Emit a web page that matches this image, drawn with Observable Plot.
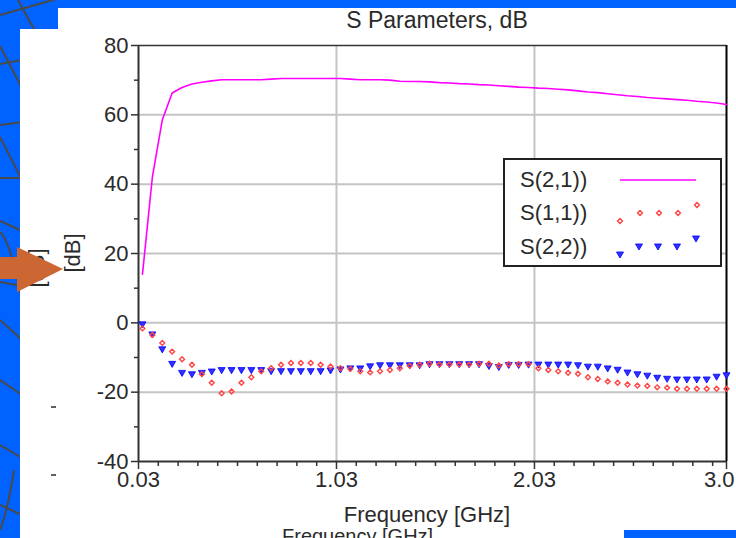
<!DOCTYPE html>
<html><head><meta charset="utf-8">
<script src="https://cdn.jsdelivr.net/npm/d3@7"></script>
<script src="https://cdn.jsdelivr.net/npm/@observablehq/plot@0.6"></script>
<style>
html,body{margin:0;padding:0;width:736px;height:538px;overflow:hidden;background:#0062ff;}
.layer{position:absolute;left:0;top:0;}
.panel{position:absolute;background:#fff;}
</style></head><body>
<svg class="layer" width="736" height="538" stroke="#4a4a4a" stroke-width="2" fill="none">
  <path d="M0,15 L60,-2"/>
  <path d="M18,0 L40,40"/>
  <path d="M0,64 L22,60"/>
  <path d="M0,46 L22,88"/>
  <path d="M0,125 L22,122"/>
  <path d="M0,137 L22,180"/>
  <path d="M0,178 L22,178"/>
  <path d="M0,221 L22,231"/>
  <path d="M0,232 Q10,240 22,300"/>
  <path d="M0,282 L22,286"/>
  <path d="M0,320 L22,340"/>
  <path d="M0,380 L22,395"/>
  <path d="M0,445 L22,458"/>
  <path d="M14,470 Q8,510 0,530"/>
  <path d="M0,505 L22,515"/>
</svg>
<div class="panel" style="left:58px;top:8px;width:678px;height:522px"></div>
<div class="panel" style="left:20px;top:29px;width:604px;height:509px"></div>
<div id="chart" class="layer"></div>
<svg id="over" class="layer" width="736" height="538" style="pointer-events:none"></svg>
<script>
const freq = [0.05,0.10,0.15,0.20,0.25,0.30,0.35,0.40,0.45,0.50,
  0.55,0.60,0.65,0.70,0.75,0.80,0.85,0.90,0.95,1.00,
  1.05,1.10,1.15,1.20,1.25,1.30,1.35,1.40,1.45,1.50,
  1.55,1.60,1.65,1.70,1.75,1.80,1.85,1.90,1.95,2.00,
  2.05,2.10,2.15,2.20,2.25,2.30,2.35,2.40,2.45,2.50,
  2.55,2.60,2.65,2.70,2.75,2.80,2.85,2.90,2.95,3.00];
const s21 = [14,42,58.5,66.3,67.9,68.9,69.4,69.8,70.1,70.1,
  70.1,70.1,70.1,70.3,70.5,70.5,70.5,70.5,70.5,70.5,
  70.5,70.3,70.1,70.1,70.1,70.0,69.7,69.6,69.6,69.5,
  69.3,69.2,69.0,68.9,68.7,68.6,68.4,68.2,68.0,67.9,
  67.7,67.6,67.4,67.2,66.9,66.6,66.4,66.1,65.8,65.5,
  65.3,65.0,64.8,64.6,64.4,64.2,63.9,63.7,63.4,63.0];
const s11 = [-1.6,-3.5,-5.8,-8.3,-10.5,-12.1,-14.8,-17.3,-20.3,-19.8,
  -17.3,-15.7,-14.0,-13.1,-12.1,-11.6,-11.6,-11.6,-12.1,-12.6,
  -13.1,-13.3,-14.0,-14.3,-14.0,-13.6,-13.1,-12.4,-12.1,-11.8,
  -12.0,-12.0,-12.0,-12.0,-11.8,-11.8,-12.3,-11.9,-11.9,-11.9,
  -13.1,-13.6,-14.0,-14.4,-14.7,-15.7,-16.2,-16.9,-17.3,-17.8,
  -18.1,-18.2,-18.6,-18.7,-19.0,-19.0,-19.0,-19.0,-19.0,-19.0];
const s22 = [-0.3,-3.2,-7.5,-11.7,-14.3,-14.7,-14.3,-13.9,-13.5,-13.5,
  -13.5,-13.5,-13.5,-13.8,-13.8,-13.8,-13.8,-13.8,-13.8,-13.6,
  -13.3,-13.0,-13.0,-12.4,-12.1,-12.1,-12.1,-12.1,-12.1,-11.8,
  -11.8,-11.8,-11.8,-11.8,-11.8,-12.3,-12.6,-12.0,-12.0,-11.9,
  -11.9,-11.9,-11.9,-11.9,-12.1,-12.5,-12.5,-13.0,-13.4,-14.2,
  -14.7,-15.1,-15.7,-16.0,-16.2,-16.2,-16.2,-16.2,-15.4,-15.0];
const seriesNames = ["S(2,1))","S(1,1))","S(2,2))"];
const yTicks = [-40,-20,0,20,40,60,80];
const yTickLabels = ["-40","-20","0","20","40","60","80"];
const yMinor = [-30,-10,10,30,50,70];
const xTicks = [0.03,1.03,2.03,3.0];
const xTickLabels = ["0.03","1.03","2.03","3.0"];
const xMinor = d3.range(1,30).map(k => 0.03 + k*0.1).filter(v => Math.abs(v-1.03)>0.01 && Math.abs(v-2.03)>0.01);
const yGrid = [-20,0,20,40,60];
const xGrid = [1.03,2.03];
const title = "S Parameters, dB";
const xLabel = "Frequency [GHz]";
const yLabel = "[dB]";

const rows = freq.map((f,i)=>({f, s21:s21[i], s11:s11[i], s22:s22[i]}));
const font = "'Liberation Sans', Arial, sans-serif";
const ink = "#2a2a2a";

const plot = Plot.plot({
  width: 736, height: 538,
  marginLeft: 138, marginRight: 10, marginTop: 45, marginBottom: 77,
  style: {fontFamily: font, fontSize: "22px", color: ink, background: "transparent", overflow: "visible"},
  x: {domain: [0.03, 3.0]},
  y: {domain: [-40, 80]},
  marks: [
    Plot.gridY(yGrid, {stroke: "#c4c4c4", strokeOpacity: 1, strokeWidth: 2}),
    Plot.gridX(xGrid, {stroke: "#c4c4c4", strokeOpacity: 1, strokeWidth: 2}),
    Plot.ruleY([80], {stroke: "#333", strokeWidth: 1.5}),
    Plot.ruleX([3.0], {stroke: "#000", strokeWidth: 2}),
    Plot.ruleX([0.03], {stroke: "#333", strokeWidth: 2}),
    Plot.ruleY([-40], {stroke: "#333", strokeWidth: 2}),
    Plot.axisY({ticks: yTicks, tickSize: 7, tickPadding: 3, fontSize: 22, stroke: "#333", strokeWidth: 1.5,
      tickFormat: d => yTickLabels[yTicks.indexOf(d)], label: null}),
    Plot.axisY({ticks: yMinor, tickSize: 4, text: null, stroke: "#333", strokeWidth: 1.5, label: null}),
    Plot.axisX({ticks: xTicks, tickSize: 8, tickPadding: 2, fontSize: 22, stroke: "#333", strokeWidth: 1.5,
      tickFormat: d => d === 3.0 ? "" : xTickLabels[xTicks.indexOf(d)], label: null}),
    Plot.axisX({ticks: xMinor, tickSize: 5, text: null, stroke: "#333", strokeWidth: 1.5, label: null}),
    Plot.text([3.0], {x: d => d, y: [-40], text: d => xTickLabels[xTicks.indexOf(d)], textAnchor: "end", dx: 8, dy: 10,
      lineAnchor: "top", fontSize: 22, fill: ink}),
    Plot.line(rows, {x: "f", y: "s21", stroke: "#ff00ff", strokeWidth: 1.6}),
    Plot.dot(rows, {x: "f", y: "s22", symbol: "triangle", rotate: 180, r: 2.6, fill: "#3030ff", stroke: "#0000ff", strokeWidth: 0.8}),
    Plot.dot(rows, {x: "f", y: "s11", symbol: "diamond2", r: 2.2, stroke: "#ff4545", strokeWidth: 1.4})
  ]
});
document.getElementById("chart").appendChild(plot);

const svg = d3.select(plot);
svg.append("text").attr("x", 437).attr("y", 20).attr("text-anchor", "middle").attr("dominant-baseline", "central")
  .attr("font-size", 23).attr("fill", ink).text(title);
svg.append("text").attr("x", 427).attr("y", 514).attr("text-anchor", "middle").attr("dominant-baseline", "central")
  .attr("font-size", 22).attr("fill", ink).text(xLabel);
svg.append("text").attr("transform", "translate(72,253) rotate(-90)").attr("text-anchor", "middle").attr("dominant-baseline", "central")
  .attr("font-size", 22).attr("fill", ink).text(yLabel);

// legend
const lg = svg.append("g").attr("text-anchor", "start");
lg.append("rect").attr("x", 504).attr("y", 159).attr("width", 217).attr("height", 107)
  .attr("fill", "#fff").attr("stroke", "#222").attr("stroke-width", 2);
const rowY = [179, 212, 246];
seriesNames.forEach((n,i) => {
  lg.append("text").attr("x", 520).attr("y", rowY[i]).attr("dominant-baseline", "central").attr("text-anchor", "start")
    .attr("font-size", 22).attr("fill", ink).text(n);
});
lg.append("line").attr("x1", 620).attr("x2", 696).attr("y1", 180).attr("y2", 180).attr("stroke", "#ff00ff").attr("stroke-width", 1.6);
const redSym = d3.symbol(d3.symbolDiamond2, Math.PI * 2.2 * 2.2)();
const bluSym = d3.symbol(d3.symbolTriangle, Math.PI * 2.6 * 2.6)();
[[620,221],[640,213],[659,213],[678,213],[697,205]].forEach(([x,y]) => {
  lg.append("path").attr("d", redSym).attr("transform", `translate(${x},${y})`).attr("fill", "none").attr("stroke", "#ff4545").attr("stroke-width", 1.4);
});
[[620,254],[639,246],[658,246],[677,246],[696,238]].forEach(([x,y]) => {
  lg.append("path").attr("d", bluSym).attr("transform", `translate(${x},${y}) rotate(180)`).attr("fill", "#3030ff").attr("stroke", "#0000ff").attr("stroke-width", 0.8);
});

// overlay: ghost texts & arrow
const ov = d3.select("#over");
ov.append("text").attr("transform", "translate(36,268) rotate(-90)").attr("text-anchor", "middle").attr("dominant-baseline", "central")
  .attr("font-family", font).attr("font-size", 22).attr("fill", ink).text(yLabel);
ov.append("line").attr("x1", 51).attr("x2", 56).attr("y1", 407).attr("y2", 407).attr("stroke", ink).attr("stroke-width", 1.5);
ov.append("line").attr("x1", 51).attr("x2", 56).attr("y1", 475).attr("y2", 475).attr("stroke", ink).attr("stroke-width", 1.5);
ov.append("text").attr("x", 282).attr("y", 543).attr("font-family", font).attr("font-size", 20).attr("fill", ink).text(xLabel);
ov.append("path").attr("d", "M0,257 L17,257 L17,247 L63,269 L17,292 L17,279 L0,279 Z").attr("fill", "#cc6633");
</script>
</body></html>
